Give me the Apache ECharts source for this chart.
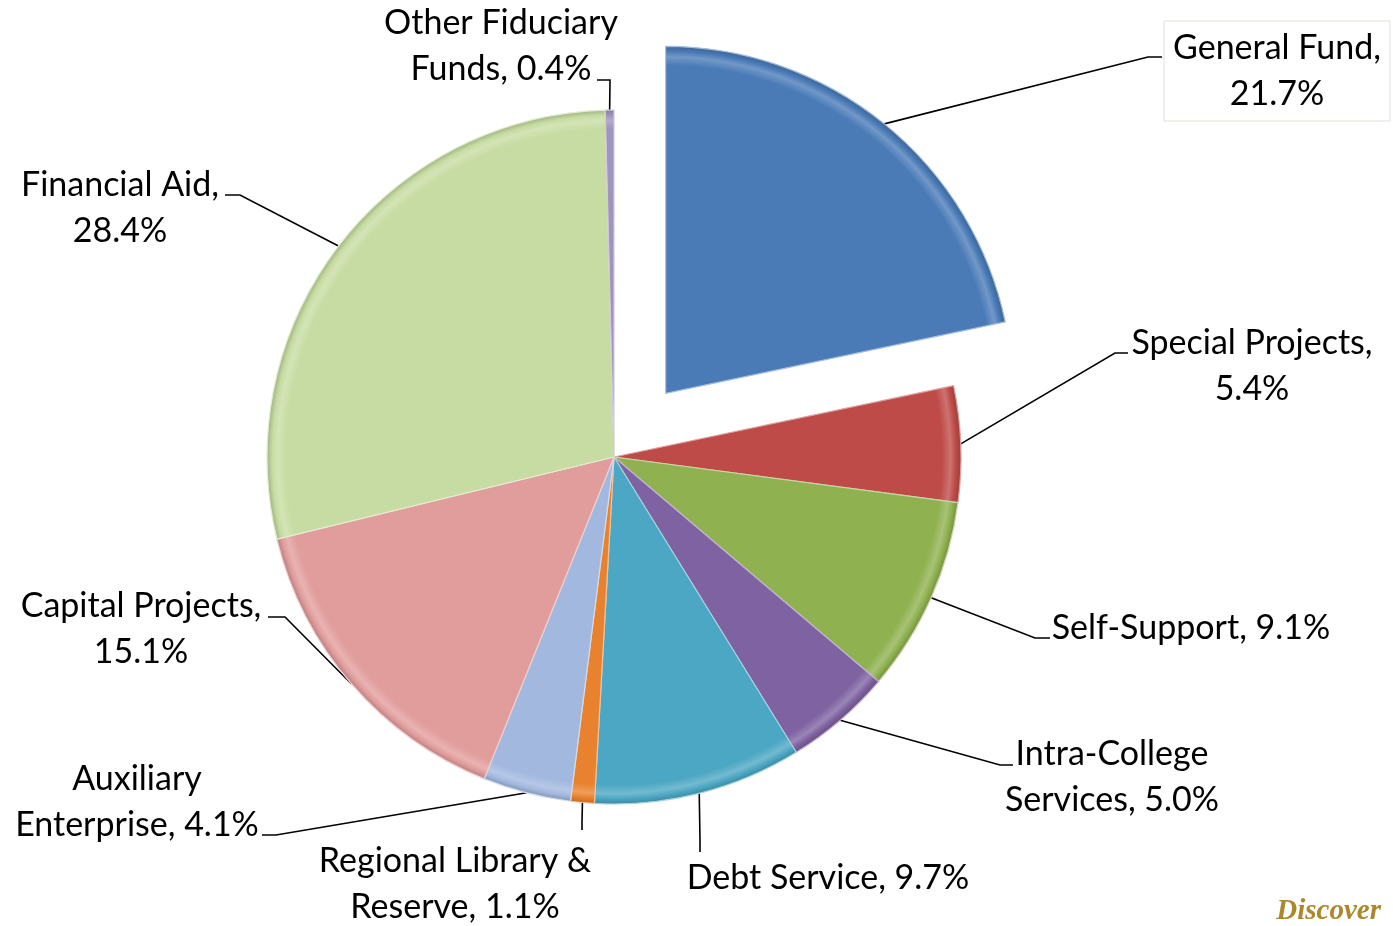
<!DOCTYPE html>
<html><head><meta charset="utf-8">
<script src="https://cdn.jsdelivr.net/npm/echarts@6/dist/echarts.min.js"></script>
<style>html,body{margin:0;padding:0;background:#fff}#chart{width:1393px;height:926px}</style>
</head><body><div id="chart"></div>
<script>
// ---- data ----
const categories = ['General Fund','Special Projects','Self-Support','Intra-College Services','Debt Service','Regional Library & Reserve','Auxiliary Enterprise','Capital Projects','Financial Aid','Other Fiduciary Funds'];
const values = [21.7, 5.4, 9.1, 5.0, 9.7, 1.1, 4.1, 15.1, 28.4, 0.4];
const labelTemplates = ['General Fund,\n{v}%','Special Projects,\n{v}%','Self-Support, {v}%','Intra-College\nServices, {v}%','Debt Service, {v}%','Regional Library &\nReserve, {v}%','Auxiliary\nEnterprise, {v}%','Capital Projects,\n{v}%','Financial Aid,\n{v}%','Other Fiduciary\nFunds, {v}%'];
const explodedIndex = 0;

// ---- styles / layout ----
const colors = ['#4a7bb7','#be4b48','#8fb14f','#7f62a1','#4ba7c3','#e9822e','#a2b8df','#e19d9c','#c6dca2','#a093bd'];
const CX = 614, CY = 457, R = 347, EXPLODE = 82;
const labelSpots = [
  {x:1277, y:71,  elbow:[1148,57],  end:[1162,57]},
  {x:1252, y:366, elbow:[1115,353], end:[1128,353]},
  {x:1191, y:628, elbow:[1035,638], end:[1050,638]},
  {x:1112, y:777, elbow:[1000,765], end:[1013,765]},
  {x:828,  y:878, elbow:[700,840],  end:[700,852]},
  {x:455,  y:884, elbow:[582,822],  end:[582,830]},
  {x:137,  y:802, elbow:[276,835],  end:[262,835]},
  {x:141,  y:629, elbow:[285,617],  end:[268,617]},
  {x:120,  y:208, elbow:[240,195],  end:[225,195]},
  {x:501,  y:46,  elbow:[610,80],   end:[597,80]}
];

// offset of the exploded slice along its bisector
const total = values.reduce((a, b) => a + b, 0);
const before = values.slice(0, explodedIndex).reduce((a, b) => a + b, 0);
const midAng = 2 * Math.PI * (before + values[explodedIndex] / 2) / total;
const EX = EXPLODE * Math.sin(midAng), EY = -EXPLODE * Math.cos(midAng);

function shade(hex, f) {
  const n = parseInt(hex.slice(1), 16);
  let r = (n >> 16) & 255, g = (n >> 8) & 255, b = n & 255;
  if (f < 0) { r = Math.round(r * (1 + f)); g = Math.round(g * (1 + f)); b = Math.round(b * (1 + f)); }
  else { r = Math.round(r + (255 - r) * f); g = Math.round(g + (255 - g) * f); b = Math.round(b + (255 - b) * f); }
  return 'rgb(' + r + ',' + g + ',' + b + ')';
}
function fill(c, cx, cy) {
  return {
    type: 'radial', x: cx, y: cy, r: R, global: true,
    colorStops: [
      {offset: 0, color: c},
      {offset: 0.945, color: c},
      {offset: 0.97, color: shade(c, 0.22)},
      {offset: 0.985, color: c},
      {offset: 1, color: shade(c, -0.18)}
    ]
  };
}
const hidden = {color: 'rgba(0,0,0,0)', borderWidth: 0};

const mainData = values.map((v, i) => {
  const item = {
    name: categories[i], value: v,
    itemStyle: i === explodedIndex ? hidden :
      {color: fill(colors[i], CX, CY), borderColor: shade(colors[i], 0.5), borderWidth: 1.2}
  };
  if (i === explodedIndex) item.label = {borderColor: '#e4e0d8', borderWidth: 1, padding: [4, 9]};
  return item;
});
const explodedData = values.map((v, i) => ({
  name: categories[i], value: v,
  itemStyle: i === explodedIndex ?
    {color: fill(colors[i], CX + EX, CY + EY), borderColor: shade(colors[i], 0.5), borderWidth: 1.2} : hidden
}));

const chart = echarts.init(document.getElementById('chart'));
chart.setOption({
  animation: false,
  backgroundColor: '#ffffff',
  graphic: [{
    type: 'text', right: 12, top: 897,
    style: {text: 'Discover', fill: '#ad872c', font: 'italic bold 29px "Liberation Serif"'}
  }],
  series: [{
    type: 'pie',
    center: [CX, CY],
    radius: R,
    startAngle: 90,
    clockwise: true,
    avoidLabelOverlap: false,
    emphasis: {disabled: true},
    data: mainData,
    label: {
      show: true,
      formatter: p => labelTemplates[p.dataIndex].replace('{v}', values[p.dataIndex].toFixed(1)),
      color: '#000', fontFamily: 'Lato', fontSize: 34, lineHeight: 46, align: 'center'
    },
    labelLine: {show: true, length: 20, length2: 14, lineStyle: {color: '#000', width: 1.6}},
    labelLayout: p => {
      const s = labelSpots[p.dataIndex];
      let a = p.labelLinePoints ? p.labelLinePoints[0].slice() : s.elbow;
      if (p.dataIndex === explodedIndex) a = [a[0] + EX, a[1] + EY];
      return {
        x: s.x, y: s.y, align: 'center', verticalAlign: 'middle',
        labelLinePoints: [a, s.elbow, s.end]
      };
    }
  }, {
    type: 'pie',
    center: [CX + EX, CY + EY],
    radius: R,
    startAngle: 90,
    clockwise: true,
    silent: true,
    emphasis: {disabled: true},
    label: {show: false},
    labelLine: {show: false},
    data: explodedData
  }]
});
</script></body></html>
